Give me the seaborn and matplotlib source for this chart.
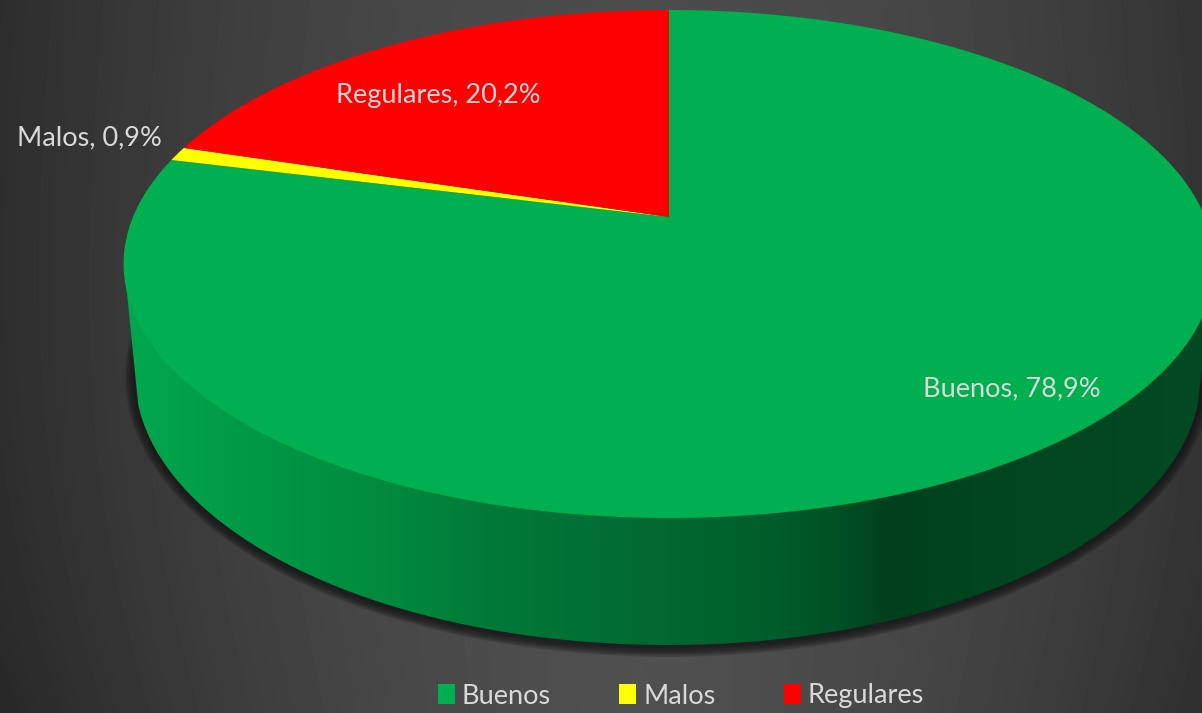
import numpy as np
import matplotlib
matplotlib.use("Agg")
import matplotlib.pyplot as plt
from matplotlib.colors import LinearSegmentedColormap
from matplotlib.patches import Ellipse, Polygon
from matplotlib.path import Path
from matplotlib.transforms import Affine2D, Transform
import seaborn as sns

categories = ["Buenos", "Malos", "Regulares"]
shares = [78.9, 0.9, 20.2]
slice_colors = ["#00B050", "#FFFF00", "#FF0000"]

W, H = 1202, 713
sns.set_theme(style="white")
plt.rcParams["font.family"] = ["Lato", "DejaVu Sans"]


class DiscPerspective(Transform):
    """Maps the unit pie disc to a perspective view of it, in figure pixels."""
    input_dims = output_dims = 2
    is_affine = False
    has_inverse = False

    cx, cy, ax_, by, k = 669.0, 217.0, 536.0, 245.3, 0.185

    def transform_non_affine(self, xy):
        xy = np.asarray(xy, float)
        d = 1 + self.k * xy[:, 1]
        return np.column_stack([self.cx + self.ax_ * xy[:, 0] / d,
                                self.cy - self.by * xy[:, 1] / d])

    def transform_path_non_affine(self, path):
        big = Affine2D().scale(3000).transform_path(path).cleaned(curves=False)
        return Path(self.transform_non_affine(big.vertices / 3000), big.codes)


fig, ax = plt.subplots(figsize=(W / 100, H / 100), dpi=100)
fig.subplots_adjust(0, 0, 1, 1)

# Background: soft grey vignette, brightest around the middle
xx, yy = np.meshgrid(np.linspace(0, W, 301), np.linspace(0, H, 179))
dx = np.abs(xx - 640) / 600
grey = (0x50 - 0x1B * np.clip(dx, 0, 1.1) ** 1.8
        - 0x09 * (yy / H) ** 3 * dx - 0x04 * (1 - yy / H)) / 255
ax.imshow(grey, cmap="gray", vmin=0, vmax=1, extent=(0, W, H, 0),
          aspect="auto", zorder=0, interpolation="bilinear")

# Contact shadow
for grow in np.arange(10, 0, -1.0):
    ax.add_patch(Ellipse((668, 377), 2 * (533 + grow), 2 * (270 + grow),
                         fc="#161616", ec="none", alpha=0.15, zorder=1))

# Side wall with horizontal shading
t_low = np.linspace(np.pi - 0.11, 0.11, 200)
low_x = 668 + 533 * np.cos(t_low)
low_y = 375 + 270 * np.sin(t_low)
t_up = np.linspace(0, -np.pi, 100)
up_x = 669 + 545 * np.cos(t_up)
up_y = 264 + 254 * np.sin(t_up)
wall = Polygon(np.column_stack([np.r_[low_x, up_x], np.r_[low_y, up_y]]),
               closed=True, fc="none", ec="none", transform=ax.transData)
ax.add_patch(wall)
stops = [(0.0, "#00A74D"), (0.16, "#009343"), (0.24, "#008A3E"),
         (0.33, "#007A38"), (0.44, "#006E33"), (0.53, "#00652F"),
         (0.60, "#005C2B"), (0.66, "#004F24"), (0.70, "#00401C"),
         (0.78, "#00451F"), (1.0, "#004A22")]
cmap = LinearSegmentedColormap.from_list("wall", stops)
grad = ax.imshow(np.linspace(0, 1, 512)[None, :], cmap=cmap, extent=(124, 1214, 700, 200),
                 aspect="auto", zorder=2, interpolation="bilinear")
grad.set_clip_path(wall)

# Top face from the pie itself
wedges, _ = ax.pie(shares, colors=slice_colors, startangle=90, counterclock=False)
persp = DiscPerspective()
for w in wedges:
    w.set_transform(persp + ax.transData)
    w.set_edgecolor("none")
    w.set_zorder(3)

ax.set_aspect("auto")
ax.set_xlim(0, W)
ax.set_ylim(H, 0)
ax.set_axis_off()

label_pos = [(1012, 389), (89, 138), (438, 96)]
for name, val, (lx, ly) in zip(categories, shares, label_pos):
    ax.text(lx, ly, f"{name}, {val:.1f}%".replace(".", ","), color="#D9D9D9",
            fontsize=19.5, ha="center", va="center", zorder=5)

leg = ax.legend(wedges, categories, loc="center", bbox_to_anchor=(681 / W, 1 - 696 / H),
                ncol=3, frameon=False, fontsize=19.5, labelcolor="#D9D9D9",
                handlelength=0.63, handleheight=0.72, handletextpad=0.26,
                columnspacing=2.52, borderpad=0, borderaxespad=0)

fig.savefig("out.png", dpi=100)
